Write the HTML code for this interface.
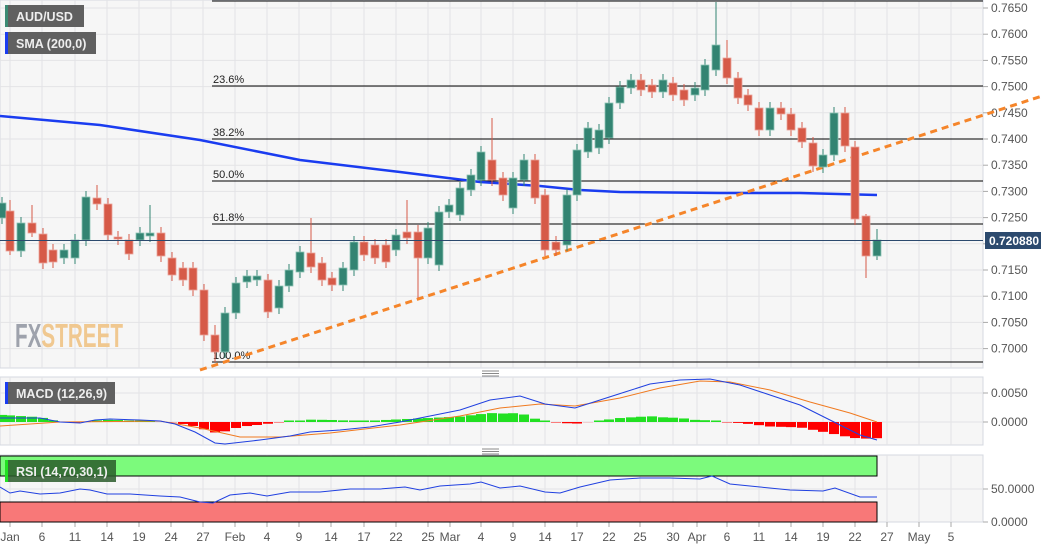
<!DOCTYPE html>
<html><head><meta charset="utf-8"><style>
html,body{margin:0;padding:0;background:#fff;}
svg{display:block;font-family:"Liberation Sans",sans-serif;}
</style></head><body>
<svg id="s" width="1060" height="550" xmlns="http://www.w3.org/2000/svg"></svg>
<script>
const S=document.getElementById('s');let h='';
const P=p=>8+(0.7650-p)/0.005*26.2;
h+='<rect x="0" y="0" width="983" height="368" fill="#f6f6f6" stroke="#d5d8e0"/>';
h+='<rect x="0" y="377" width="983" height="68" fill="#f6f6f6" stroke="#d5d8e0"/>';
h+='<rect x="0" y="455" width="983" height="67" fill="#f6f6f6" stroke="#d5d8e0"/>';
const dates=[[10,'Jan'],[42,'6'],[75,'11'],[107,'14'],[139,'19'],[171,'24'],[203,'27'],[235,'Feb'],[267,'4'],[299,'9'],[331,'14'],[364,'17'],[396,'22'],[428,'25'],[450,'Mar'],[481,'4'],[513,'9'],[545,'14'],[577,'17'],[609,'22'],[640,'25'],[673,'30'],[697,'Apr'],[727,'6'],[759,'11'],[791,'14'],[823,'19'],[855,'22'],[887,'27'],[919,'May'],[951,'5']];
let g='';
for(const [x] of dates){g+=`<line x1="${x}" y1="0" x2="${x}" y2="368"/><line x1="${x}" y1="377" x2="${x}" y2="445"/><line x1="${x}" y1="455" x2="${x}" y2="522"/>`;}
for(let p=0.7000;p<=0.76501;p+=0.005){const y=P(p);g+=`<line x1="0" y1="${y}" x2="983" y2="${y}"/>`;}
g+='<line x1="0" y1="393" x2="983" y2="393"/><line x1="0" y1="422" x2="983" y2="422"/><line x1="0" y1="489" x2="983" y2="489"/>';
h+=`<g stroke="#e3e3e6" stroke-width="1">${g}</g>`;
for(let p=0.7000;p<=0.76501;p+=0.005){const y=P(p);h+=`<line x1="983" y1="${y}" x2="988" y2="${y}" stroke="#aaa"/><text x="991" y="${y+4}" font-size="12" fill="#555">${p.toFixed(4)}</text>`;}
h+='<line x1="983" y1="393" x2="988" y2="393" stroke="#aaa"/><text x="991" y="397" font-size="12" fill="#555">0.0050</text>';
h+='<line x1="983" y1="422" x2="988" y2="422" stroke="#aaa"/><text x="991" y="426" font-size="12" fill="#555">0.0000</text>';
h+='<line x1="983" y1="489" x2="988" y2="489" stroke="#aaa"/><text x="991" y="493" font-size="12" fill="#555">50.0000</text>';
h+='<line x1="983" y1="522" x2="988" y2="522" stroke="#aaa"/><text x="991" y="526" font-size="12" fill="#555">0.0000</text>';
for(const [x,t] of dates){h+=`<line x1="${x}" y1="522" x2="${x}" y2="527" stroke="#aaa"/><text x="${x}" y="541" font-size="12" fill="#555" text-anchor="middle">${t}</text>`;}
h+='<text x="15" y="347" font-size="33" font-weight="bold" fill="#9ea2ac" textLength="108" lengthAdjust="spacingAndGlyphs">FX<tspan fill="#f0c890">STREET</tspan></text>';
h+='<line x1="212" y1="1" x2="983" y2="1" stroke="#000"/>';
for(const [y,t] of [[86,'23.6%'],[139,'38.2%'],[181,'50.0%'],[224,'61.8%'],[362,'100.0%']]){h+=`<line x1="212" y1="${y}" x2="983" y2="${y}" stroke="#000"/><text x="213" y="${y-3}" font-size="11" fill="#222">${t}</text>`;}
h+='<polyline fill="none" stroke="#1a3cf0" stroke-width="2.5" points="0,116 100,125 200,140 300,160 400,172 480,182 540,186 580,190 620,192 720,193 800,193 877,195"/>';
h+='<line x1="200" y1="370" x2="1042" y2="96" stroke="#f5852a" stroke-width="3" stroke-dasharray="7,5"/>';
const C=[[2,'g',203,218],[10,'r',211,251,200,255],[21,'g',223,251],[32,'r',223,233,205,237],[43,'r',234,263],[53,'r',250,262],[64,'g',250,258],[75,'g',240,258],[86,'g',197,240],[97,'r',198,204,185],[108,'r',204,235],[118,'r',237,239],[129,'r',240,254],[140,'g',233,240],[150,'g',233,236,205],[161,'r',233,256],[172,'r',258,275],[183,'r',268,280],[193,'r',268,290],[204,'r',290,335],[215,'r',335,352,325,362],[225,'g',313,352],[236,'g',283,313],[247,'g',276,282],[257,'g',276,280],[268,'r',280,312],[279,'g',286,308],[289,'g',270,286],[300,'g',252,272],[311,'r',253,267,218],[322,'r',263,280],[332,'r',278,285],[343,'g',268,285],[354,'g',242,270],[364,'r',242,255],[375,'r',245,258],[386,'r',245,262],[396,'g',235,250],[407,'r',232,238,200],[418,'r',232,258,225,298],[428,'g',228,258],[439,'g',212,265],[449,'g',205,212],[460,'g',188,215],[471,'g',175,190],[481,'g',152,180],[492,'r',160,180,118],[503,'r',178,195],[513,'g',178,208],[524,'g',160,180],[535,'r',160,198],[545,'r',195,250],[556,'r',242,250],[567,'g',195,245],[577,'g',150,195],[588,'g',128,152],[599,'g',130,148],[609,'g',103,138],[620,'g',87,103],[631,'g',80,88],[641,'r',80,90],[652,'r',85,92],[663,'g',80,92],[673,'r',83,95],[684,'r',90,100],[695,'g',88,95],[705,'g',65,90],[716,'g',45,70,2],[727,'r',58,78,40],[738,'r',78,98],[748,'r',95,105],[759,'r',108,130],[770,'g',108,130],[781,'r',108,114],[791,'r',114,130],[802,'r',128,142],[813,'r',143,166],[823,'g',155,167],[834,'g',113,155],[845,'r',113,146],[855,'r',147,219],[866,'r',216,256,214,278],[877,'g',240,256,229,260]];
for(const c of C){const [x,k,t,b]=c;const wt=c[4]!==undefined?c[4]:t-6,wb=c[5]!==undefined?c[5]:b+6;const col=k=='g'?'#338472':'#d65a48';const bc=k=='g'?'#8cc4b4':'#eaa39a';
h+=`<line x1="${x}" y1="${wt}" x2="${x}" y2="${wb}" stroke="${col}"/><rect x="${x-4}" y="${t}" width="8" height="${Math.max(b-t,1)}" fill="${col}" stroke="${bc}" stroke-width="0.8"/>`;}
h+='<line x1="0" y1="240.5" x2="983" y2="240.5" stroke="#2c4a6e"/><rect x="985" y="232" width="56" height="17" fill="#2c4a6e"/><text x="989" y="245" font-size="12" font-weight="bold" fill="#fff">0.720880</text>';
const mb=[[0,418],[40,418],[60,422],[80,423],[95,420],[110,419],[140,420],[160,421],[175,424],[195,432],[215,443],[225,444],[260,440],[290,436],[310,432],[340,430],[370,427],[400,422],[430,416],[460,410],[490,400],[520,396],[545,404],[575,408],[600,400],[625,392],[650,384],[680,380],[710,379],[740,385],[770,395],[800,405],[830,420],[860,435],[877,440]];
const ms=[[0,426],[60,422],[160,421],[200,428],[240,437],[280,437],[330,433],[400,425],[460,416],[500,408],[540,404],[575,406],[620,398],[660,388],[700,381],[730,382],[770,390],[810,402],[850,413],[877,422]];
const it=(a,x)=>{for(let i=0;i<a.length-1;i++){if(x<=a[i+1][0]){const f=(x-a[i][0])/(a[i+1][0]-a[i][0]);return a[i][1]+f*(a[i+1][1]-a[i][1]);}}return a[a.length-1][1];};
for(const c of C){const x=c[0];const d=(it(ms,x)-it(mb,x))*0.9;const col=d>=0?'#22e022':'#ff0000';
if(d>=0)h+=`<rect x="${x-5}" y="${422-Math.max(d,1.5)}" width="10" height="${Math.max(d,1.5)}" fill="${col}"/>`;else h+=`<rect x="${x-5}" y="422" width="10" height="${-d}" fill="${col}"/>`;}
h+=`<polyline fill="none" stroke="#f07a20" stroke-width="1" points="${ms.map(p=>p.join(',')).join(' ')}"/>`;
h+=`<polyline fill="none" stroke="#2040e0" stroke-width="1" points="${mb.map(p=>p.join(',')).join(' ')}"/>`;
h+='<rect x="0" y="456" width="877" height="20" fill="#7cfa7c" stroke="#000"/><rect x="0" y="502" width="877" height="20" fill="#f87878" stroke="#000"/>';
h+='<polyline fill="none" stroke="#2040e0" stroke-width="1" points="0,487 10,493 20,491 40,494 60,493 80,489 90,490 107,494 130,494 160,496 180,497 200,502 213,503 230,495 250,493 267,496 290,492 320,492 350,489 380,489 405,487 420,490 440,486 470,484 481,482 500,488 520,486 545,492 560,493 580,487 610,480 640,478 670,478 700,479 712,476 730,484 760,487 790,490 823,491 835,488 860,497 877,497"/>';
h+='<g stroke="#888"><line x1="482" y1="371" x2="499" y2="371"/><line x1="482" y1="373.5" x2="499" y2="373.5"/><line x1="482" y1="376" x2="499" y2="376"/><line x1="482" y1="449" x2="499" y2="449"/><line x1="482" y1="451.5" x2="499" y2="451.5"/><line x1="482" y1="454" x2="499" y2="454"/></g>';
const L=(y,w,col,t)=>`<rect x="5" y="${y}" width="${w}" height="22" fill="#505050" fill-opacity="0.9"/><rect x="5" y="${y}" width="3" height="22" fill="${col}"/><text x="16" y="${y+16}" font-size="12.5" font-weight="bold" fill="#eee">${t}</text>`;
h+=L(5,79,'#3b8a73','AUD/USD')+L(32,91,'#1a3cf0','SMA (200,0)')+L(382,110,'#1a3cf0','MACD (12,26,9)');
h+='<rect x="5" y="460" width="111" height="22" fill="#2a5a2a" fill-opacity="0.85"/><rect x="5" y="460" width="3" height="22" fill="#22e022"/><text x="16" y="476" font-size="12.5" font-weight="bold" fill="#eee">RSI (14,70,30,1)</text>';
S.innerHTML=h;
</script>
</body></html>
